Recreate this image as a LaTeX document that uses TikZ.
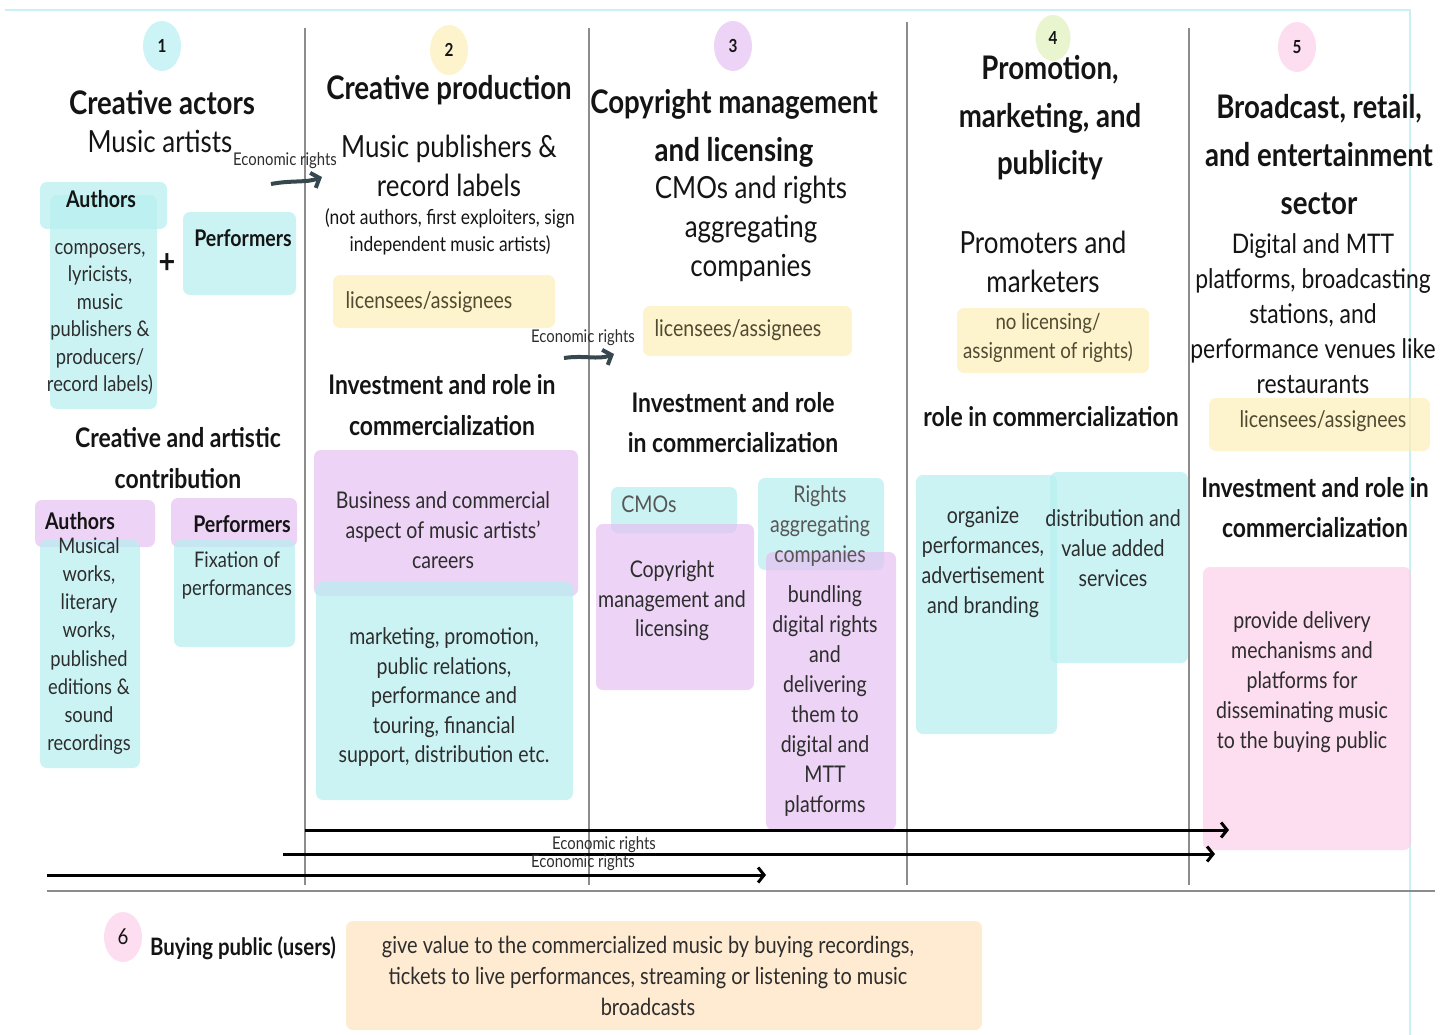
\documentclass[tikz,border=0pt]{standalone}
\usepackage{fontspec}
\setmainfont{Lato}[FakeStretch=0.85]
\usetikzlibrary{arrows.meta,shapes.geometric}

% fills (used with partial opacity so overlapping panels blend)
\definecolor{cy}{RGB}{182,238,240}
\definecolor{pu}{RGB}{229,192,241}
\definecolor{ye}{RGB}{252,238,182}
\definecolor{pi}{RGB}{252,206,233}
\definecolor{orb}{RGB}{253,227,190}
% badge colours
\definecolor{cyc}{RGB}{204,243,245}
\definecolor{yec}{RGB}{253,243,204}
\definecolor{puc}{RGB}{237,211,245}
\definecolor{grc}{RGB}{232,245,206}
\definecolor{pic}{RGB}{253,221,240}
% strokes and text
\definecolor{ink}{RGB}{20,20,20}
\definecolor{boxink}{RGB}{45,45,45}
\definecolor{oliveink}{RGB}{80,74,50}
\definecolor{slate}{RGB}{55,71,79}
\definecolor{sepgray}{RGB}{140,140,140}
\definecolor{rim}{RGB}{200,240,245}

\newcommand\fs[2]{\fontsize{#1}{#2}\selectfont}
% \panel{name}{x1}{y1}{x2}{y2}{colour}
\newcommand\panel[6]{%
  \node[panelst, fill=#6, minimum width={(#4-#2)*1pt}, minimum height={(#5-#3)*1pt}]
    (#1) at ({(#2+#4)/2},{(#3+#5)/2}) {};}

\tikzset{
  panelst/.style={rectangle, rounded corners=7pt, draw=none, fill opacity=0.7, inner sep=0pt},
  badge/.style={ellipse, minimum width=38pt, minimum height=50pt, inner sep=0pt, text=ink, font=\fs{18}{22}\bfseries},
  hd/.style={inner sep=0pt, align=center, text=ink, font=\fs{32.5}{47.5}\bfseries},
  hdb/.style={inner sep=0pt, align=center, text=ink, font=\fs{27}{41}\bfseries},
  sub/.style={inner sep=0pt, align=center, text=ink, font=\fs{30.5}{39}},
  subs/.style={inner sep=0pt, align=center, text=ink, font=\fs{27}{35}},
  note/.style={inner sep=0pt, align=center, text=ink, font=\fs{20.5}{27}},
  bx/.style={inner sep=0pt, align=center, text=boxink, font=\fs{23}{30}},
  bxn/.style={inner sep=0pt, align=center, text=boxink, font=\fs{21.5}{27.5}},
  bxb/.style={inner sep=0pt, align=center, text=ink, font=\fs{23}{28}\bfseries},
  lic/.style={inner sep=0pt, align=center, text=oliveink, font=\fs{23}{29}},
  lbl/.style={inner sep=0pt, text=boxink, font=\fs{17.5}{18}},
  sep/.style={draw=sepgray, line width=1.3pt},
  curv/.style={draw=slate, line width=4pt, -{Straight Barb[length=7pt,width=16pt]}},
  longarr/.style={draw=black, line width=3pt, -{Straight Barb[length=6pt,width=15pt]}},
}

\begin{document}
\begin{tikzpicture}[x=1pt,y=-1pt]
\useasboundingbox (0,0) rectangle (1446,1035);

% outer rim
\draw[rim, line width=2pt] (5,10) -- (1410,10) -- (1410,1035);

% column separators and base line
\draw[sep] (305,28) -- (305,885);
\draw[sep] (589,28) -- (589,885);
\draw[sep] (907,22) -- (907,885);
\draw[sep] (1189,28) -- (1189,885);
\draw[draw=sepgray, line width=2pt] (47,891) -- (1435,891);

% ---------- column 1: creative actors ----------
\node[badge, fill=cyc] (n1) at (162,46) {1};
\node[hd] (t1) at (162,103) {Creative actors};
\node[sub] (s1) at (160,141) {Music artists};

\panel{bA}{40}{182}{167}{229}{cy}
\panel{bAc}{50}{195}{157}{409}{cy}
\panel{bP}{183}{212}{296}{295}{cy}
\node[bxb] (tA) at (101,199) {Authors};
\node[bxn] (tAc) at (100,319) {composers,\\lyricists,\\music\\publishers \&\\producers/\\record labels)};
\node[inner sep=0pt, text=ink, font=\fs{34}{34}\bfseries] (plus) at (167,264) {+};
\node[bxb] (tP) at (243,238) {Performers};

\node[hdb] (c1) at (178,458) {Creative and artistic\\contribution};
\panel{bA2}{35}{500}{155}{547}{pu}
\panel{bA2c}{40}{540}{140}{768}{cy}
\panel{bP2}{171}{498}{297}{547}{pu}
\panel{bP2c}{174}{540}{295}{647}{cy}
\node[bxb] (tA2) at (80,521) {Authors};
\node[bxn, font=\fs{21.5}{28.2}] (tA2c) at (89,646) {Musical\\works,\\literary\\works,\\published\\editions \&\\sound\\recordings};
\node[bxb] (tP2) at (242,524) {Performers};
\node[bxn, font=\fs{21.5}{28}] (tP2c) at (237,575) {Fixation of\\performances};

% ---------- column 2: creative production ----------
\node[badge, fill=yec] (n2) at (449,50) {2};
\node[hd] (t2) at (449,90) {Creative production};
\node[sub] (s2) at (449,166) {Music publishers \&\\record labels};
\node[note] (m2) at (450,232) {(not authors, first exploiters, sign\\independent music artists)};
\panel{y2}{333}{275}{555}{328}{ye}
\node[lic] (l2) at (429,302) {licensees/assignees};
\node[hdb] (i2) at (442,405) {Investment and role in\\commercialization};
\panel{p2}{314}{450}{578}{596}{pu}
\panel{c2}{316}{582}{573}{800}{cy}
\node[bx] (p2t) at (443,530) {Business and commercial\\aspect of music artists'\\careers};
\node[bx, font=\fs{23}{29.5}] (c2t) at (444,697) {marketing, promotion,\\public relations,\\performance and\\touring, financial\\support, distribution etc.};

% ---------- column 3: copyright management ----------
\node[badge, fill=puc] (n3) at (733,46) {3};
\node[hd, font=\fs{32.5}{48}\bfseries] (t3) at (734,128) {Copyright management\\and licensing};
\node[sub] (s3) at (751,229) {CMOs and rights\\aggregating\\companies};
\panel{y3}{643}{306}{852}{356}{ye}
\node[lic] (l3) at (738,330) {licensees/assignees};
\node[hdb, font=\fs{27}{40}\bfseries] (i3) at (733,423) {Investment and role\\in commercialization};
\panel{c3a}{611}{487}{737}{533}{cy}
\panel{p3a}{596}{524}{754}{690}{pu}
\panel{c3b}{758}{478}{884}{570}{cy}
\panel{p3b}{766}{552}{896}{830}{pu}
\node[bx, text=boxink!80] (c3at) at (649,504) {CMOs};
\node[bx, font=\fs{23}{29.5}] (p3at) at (672,601) {Copyright\\management and\\licensing};
\node[bx, text=boxink!80] (c3bt) at (820,526) {Rights\\aggregating\\companies};
\node[bx, font=\fs{23}{29.9}] (p3bt) at (825,701) {bundling\\digital rights\\and\\delivering\\them to\\digital and\\MTT\\platforms};

% ---------- column 4: promotion ----------
\node[badge, fill=grc, minimum width=35pt, minimum height=46pt] (n4) at (1053,38) {4};
\node[hd] (t4) at (1050,118) {Promotion,\\marketing, and\\publicity};
\node[sub] (s4) at (1043,262) {Promoters and\\marketers};
\panel{y4}{957}{308}{1149}{373}{ye}
\node[lic, font=\fs{22}{29}] (l4) at (1048,338) {no licensing/\\assignment of rights)};
\node[hdb] (i4) at (1051,417) {role in commercialization};
\panel{c4a}{916}{475}{1057}{734}{cy}
\panel{c4b}{1050}{472}{1188}{663}{cy}
\node[bx] (c4at) at (983,562) {organize\\performances,\\advertisement\\and branding};
\node[bx] (c4bt) at (1113,548) {distribution and\\value added\\services};

% ---------- column 5: broadcast and retail ----------
\node[badge, fill=pic] (n5) at (1297,47) {5};
\node[hd, font=\fs{32.5}{48}\bfseries] (t5) at (1319,155) {Broadcast, retail,\\and entertainment\\sector};
\node[subs] (s5) at (1313,314) {Digital and MTT\\platforms, broadcasting\\stations, and\\performance venues like\\restaurants};
\panel{y5}{1209}{398}{1430}{451}{ye}
\node[lic] (l5) at (1323,421) {licensees/assignees};
\node[hdb, font=\fs{27}{40}\bfseries] (i5) at (1315,508) {Investment and role in\\commercialization};
\panel{p5}{1203}{567}{1411}{850}{pi}
\node[bx] (p5t) at (1302,682) {provide delivery\\mechanisms and\\platforms for\\disseminating music\\to the buying public};

% ---------- transfers of economic rights ----------
\node[lbl] (e1) at (285,161) {Economic rights};
\coordinate (a1s) at (271,184);
\coordinate (a1e) at (322,177);
\draw[curv] (a1s) .. controls (292,180) and (306,183) .. (a1e);

\node[lbl] (e2) at (583,338) {Economic rights};
\coordinate (a2s) at (564,358);
\coordinate (a2e) at (614,354);
\draw[curv] (a2s) .. controls (584,355) and (598,360) .. (a2e);

\coordinate (r1s) at (305,830);
\coordinate (r1e) at (1229,830);
\coordinate (r2s) at (283,854);
\coordinate (r2e) at (1215,854);
\coordinate (r3s) at (47,875);
\coordinate (r3e) at (766,875);
\draw[longarr] (r1s) -- (r1e);
\draw[longarr] (r2s) -- (r2e);
\draw[longarr] (r3s) -- (r3e);
\node[lbl] (e3) at (604,845) {Economic rights};
\node[lbl] (e4) at (583,863) {Economic rights};

% ---------- buying public ----------
\node[badge, fill=pic, font=\fs{22}{26}] (n6) at (123,937) {6};
\node[bxb, font=\fs{24}{28}\bfseries] (t6) at (243,948) {Buying public (users)};
\panel{o6}{346}{921}{982}{1030}{orb}
\node[bx, font=\fs{23.5}{31}] (o6t) at (648,976) {give value to the commercialized music by buying recordings,\\tickets to live performances, streaming or listening to music\\broadcasts};

\end{tikzpicture}
\end{document}
